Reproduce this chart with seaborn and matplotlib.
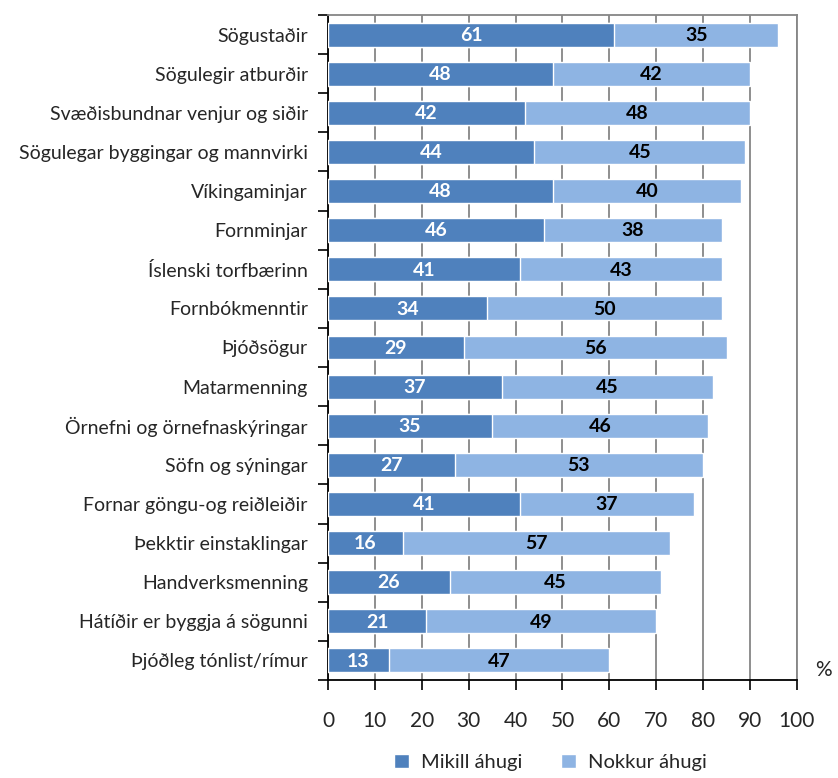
import matplotlib
matplotlib.use("Agg")
import matplotlib.pyplot as plt
import seaborn as sns
import pandas as pd
import numpy as np
from matplotlib.ticker import FixedLocator

categories = [
    "Sögustaðir", "Sögulegir atburðir", "Svæðisbundnar venjur og siðir",
    "Sögulegar byggingar og mannvirki", "Víkingaminjar", "Fornminjar",
    "Íslenski torfbærinn", "Fornbókmenntir", "Þjóðsögur", "Matarmenning",
    "Örnefni og örnefnaskýringar", "Söfn og sýningar", "Fornar göngu-og reiðleiðir",
    "Þekktir einstaklingar", "Handverksmenning", "Hátíðir er byggja á sögunni",
    "Þjóðleg tónlist/rímur",
]
mikill = [61, 48, 42, 44, 48, 46, 41, 34, 29, 37, 35, 27, 41, 16, 26, 21, 13]
nokkur = [35, 42, 48, 45, 40, 38, 43, 50, 56, 45, 46, 53, 37, 57, 45, 49, 47]
series_names = ["Mikill áhugi", "Nokkur áhugi"]
x_ticks = [0, 10, 20, 30, 40, 50, 60, 70, 80, 90, 100]

df = pd.DataFrame({"cat": categories, "mikill": mikill, "nokkur": nokkur})
df["total"] = df["mikill"] + df["nokkur"]

sns.set_theme(style="white")
plt.rcParams["font.family"] = ["Lato", "DejaVu Sans"]

dark = "#4F81BD"
light = "#8EB4E3"

fig = plt.figure(figsize=(8.38, 7.78), dpi=100)
ax = fig.add_axes([0.3914, 0.126, 0.951 - 0.3914, 0.9807 - 0.126])

sns.barplot(data=df, y="cat", x="total", color=light, orient="h", width=0.61,
            saturation=1, ax=ax, label=series_names[1], zorder=3)
sns.barplot(data=df, y="cat", x="mikill", color=dark, orient="h", width=0.61,
            saturation=1, ax=ax, label=series_names[0], zorder=3)

n = len(categories)
for i in range(n):
    ax.text(mikill[i] / 2, i + 0.02, str(mikill[i]), ha="center", va="center",
            color="white", fontsize=14, fontweight="bold", zorder=4)
    ax.text(mikill[i] + nokkur[i] / 2, i + 0.02, str(nokkur[i]), ha="center", va="center",
            color="black", fontsize=14, fontweight="bold", zorder=4)

ax.set_xlim(0, 100)
ax.set_ylim(n - 0.5, -0.5)
ax.set_xticks(x_ticks)
ax.set_xticklabels([str(t) for t in x_ticks], fontsize=15)
ax.xaxis.grid(True, color="#868686", linewidth=1.3, zorder=0)
ax.yaxis.grid(False)
ax.set_axisbelow(True)
ax.set_xlabel("")
ax.set_ylabel("")
ax.tick_params(axis="x", length=7, width=1.2, color="black", pad=15, direction="out", bottom=True)
ax.tick_params(axis="y", which="major", length=0, pad=14.5, labelsize=14)
ax.yaxis.set_minor_locator(FixedLocator(np.arange(-0.5, n, 1.0)))
ax.tick_params(axis="y", which="minor", length=7, width=1.2, color="black", left=True)

for s in ["top", "right"]:
    ax.spines[s].set_color("#868686")
    ax.spines[s].set_linewidth(1.3)
for s in ["left", "bottom"]:
    ax.spines[s].set_color("black")
    ax.spines[s].set_linewidth(1.3)

fig.text(0.993, 0.139, "%", ha="right", va="center", fontsize=15)

handles, labels = ax.get_legend_handles_labels()
order = [labels.index(series_names[0]), labels.index(series_names[1])]
leg = fig.legend([handles[i] for i in order], [labels[i] for i in order],
                 loc="center", bbox_to_anchor=(0.657, 0.02), ncol=2, frameon=False,
                 fontsize=14.5, handlelength=0.75, handleheight=0.75, columnspacing=1.9,
                 handletextpad=0.6, borderpad=0.1)
if ax.get_legend() is not None:
    ax.get_legend().remove()

fig.savefig("out.png", dpi=100)
